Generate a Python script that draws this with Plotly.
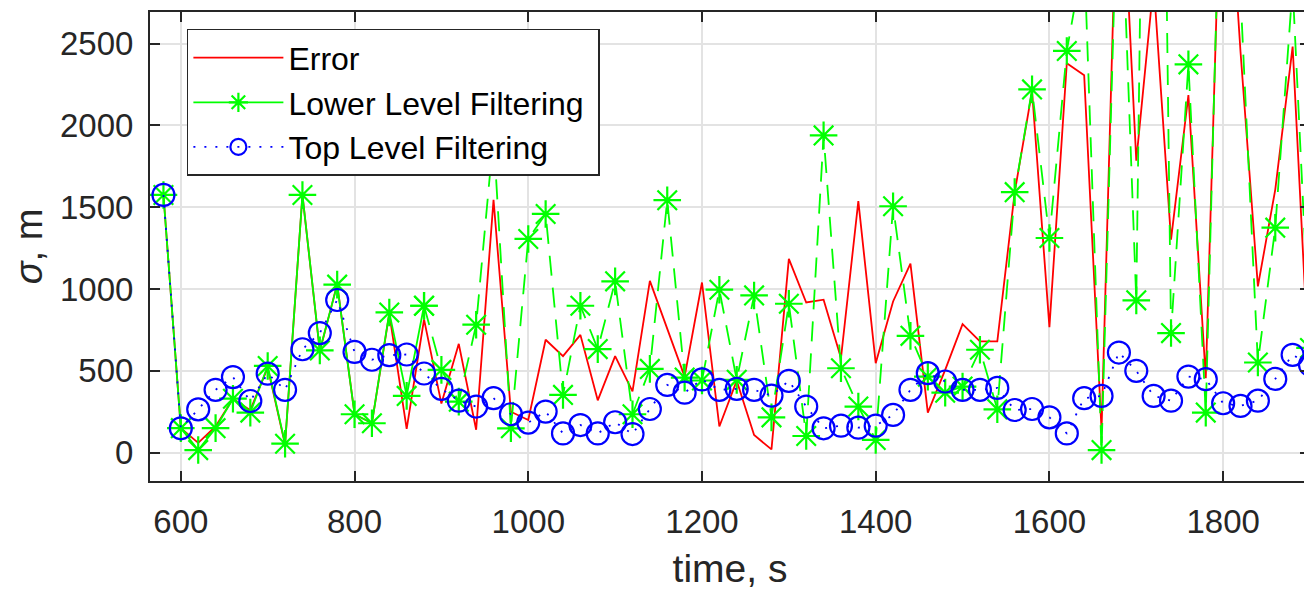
import plotly.graph_objects as go

# time axis (s)
time_s = [580, 600, 620, 640, 660, 680, 700, 720, 740, 760, 780, 800, 820, 840, 860, 880,
          900, 920, 940, 960, 980, 1000, 1020, 1040, 1060, 1080, 1100, 1120, 1140, 1160, 1180,
          1200, 1220, 1240, 1260, 1280, 1300, 1320, 1340, 1360, 1380, 1400, 1420, 1440, 1460,
          1480, 1500, 1520, 1540, 1560, 1580, 1600, 1620, 1640, 1660, 1680, 1700, 1720, 1740,
          1760, 1780, 1800, 1820, 1840, 1860, 1880, 1900]

error_m = [1575, 150, 60, 160, 330, 260, 520, 50, 1575, 620, 1030, 235, 180, 850, 145, 815,
           300, 665, 140, 1545, 250, 200, 690, 590, 720, 320, 590, 375, 1050, 760, 465,
           1040, 160, 440, 108, 20, 1184, 918, 935, 578, 1537, 547, 924, 1155, 245,
           506, 786, 680, 680, 1590, 2210, 767, 2380, 2306, 139, 3950, 1785, 2870, 1302,
           2185, 455, 4080, 2450, 1016, 1608, 2482, 370]

lower_m = [1575, 150, 16, 150, 330, 245, 530, 55, 1575, 625, 1027, 235, 180, 857, 347, 898,
           506, 312, 782, 1940, 149, 1306, 1459, 353, 898, 633, 1047, 235, 512, 1543, 459,
           441, 996, 445, 961, 216, 910, 102, 1939, 516, 282, 78, 1506, 714, 465,
           367, 404, 629, 265, 1592, 2220, 1312, 2455, 3050, 16, 3800, 931, 9000, 731,
           2373, 245, 4300, 2800, 551, 1375, 2850, 640]

top_m = [1575, 149, 265, 384, 462, 316, 483, 384, 632, 731, 933, 616, 568, 596, 600, 484,
         390, 318, 282, 333, 235, 184, 251, 118, 169, 118, 186, 114, 267, 414, 367,
         448, 384, 390, 384, 349, 439, 282, 149, 165, 153, 165, 231, 384, 486,
         435, 384, 384, 396, 261, 267, 216, 118, 333, 347, 612, 500, 347, 318,
         465, 449, 302, 286, 318, 451, 598, 537]

x_ticks = [600, 800, 1000, 1200, 1400, 1600, 1800]
y_ticks = [0, 500, 1000, 1500, 2000, 2500]

split = time_s.index(880)  # lower-level line drawn solid up to here, dashed after

FONT = "Liberation Sans, Arial, sans-serif"
AX = "#262626"
PAD = "\u00a0"

fig = go.Figure()

fig.add_trace(go.Scatter(
    x=time_s, y=error_m, mode="lines", name="Error",
    line=dict(color="#ff0000", width=1.8),
))

fig.add_trace(go.Scatter(
    x=time_s[:split + 1], y=lower_m[:split + 1], mode="lines+markers",
    name="Lower Level Filtering" + PAD, legendgroup="low",
    line=dict(color="#00ff00", width=1.8),
    marker=dict(symbol="asterisk-open", size=23, color="#00ff00",
                line=dict(color="#00ff00", width=2.2)),
))
fig.add_trace(go.Scatter(
    x=time_s[split:], y=lower_m[split:], mode="lines+markers",
    name="Lower Level Filtering", legendgroup="low", showlegend=False,
    line=dict(color="#00ff00", width=1.8, dash="20px,12px"),
    marker=dict(symbol="asterisk-open", size=23, color="#00ff00",
                line=dict(color="#00ff00", width=2.2)),
))

fig.add_trace(go.Scatter(
    x=time_s, y=top_m, mode="lines+markers", name="Top Level Filtering",
    line=dict(color="#0000ff", width=1.8, dash="2px,9px"),
    marker=dict(symbol="circle-open", size=22, color="#0000ff",
                line=dict(color="#0000ff", width=2.2)),
))

# page body has an 8px margin: figure is sized/offset to compensate
fig.update_layout(
    width=1304, height=583,
    margin=dict(l=142, r=0, t=4, b=110),
    plot_bgcolor="white", paper_bgcolor="white",
    font=dict(family=FONT, color=AX),
    showlegend=True,
    legend=dict(
        x=0.0318, y=0.964, xanchor="left", yanchor="top",
        bgcolor="white", bordercolor=AX, borderwidth=1.5,
        font=dict(family=FONT, size=32, color="black"),
        itemwidth=90, tracegroupgap=0,
    ),
)

fig.update_xaxes(
    range=[564.5, 1900], tickvals=x_ticks, ticktext=[str(v) for v in x_ticks],
    ticks="inside", ticklen=10, tickwidth=1.5, tickcolor=AX,
    showline=True, linecolor=AX, linewidth=2, mirror="ticks",
    showgrid=True, gridcolor="#e3e3e3", gridwidth=1.5, zeroline=False,
    tickfont=dict(family=FONT, size=33, color=AX), ticklabelstandoff=10,
    title=dict(text="time, s", font=dict(family=FONT, size=39, color=AX), standoff=16),
)
fig.update_yaxes(
    range=[-173, 2693], tickvals=y_ticks, ticktext=[str(v) for v in y_ticks],
    ticks="inside", ticklen=10, tickwidth=1.5, tickcolor=AX,
    showline=True, linecolor=AX, linewidth=2, mirror="ticks",
    showgrid=True, gridcolor="#e3e3e3", gridwidth=1.5, zeroline=False,
    tickfont=dict(family=FONT, size=33, color=AX), ticklabelstandoff=8,
    title=dict(text="<i>σ</i>, m", font=dict(family=FONT, size=38, color=AX), standoff=12),
)

fig.write_html("out.html")
